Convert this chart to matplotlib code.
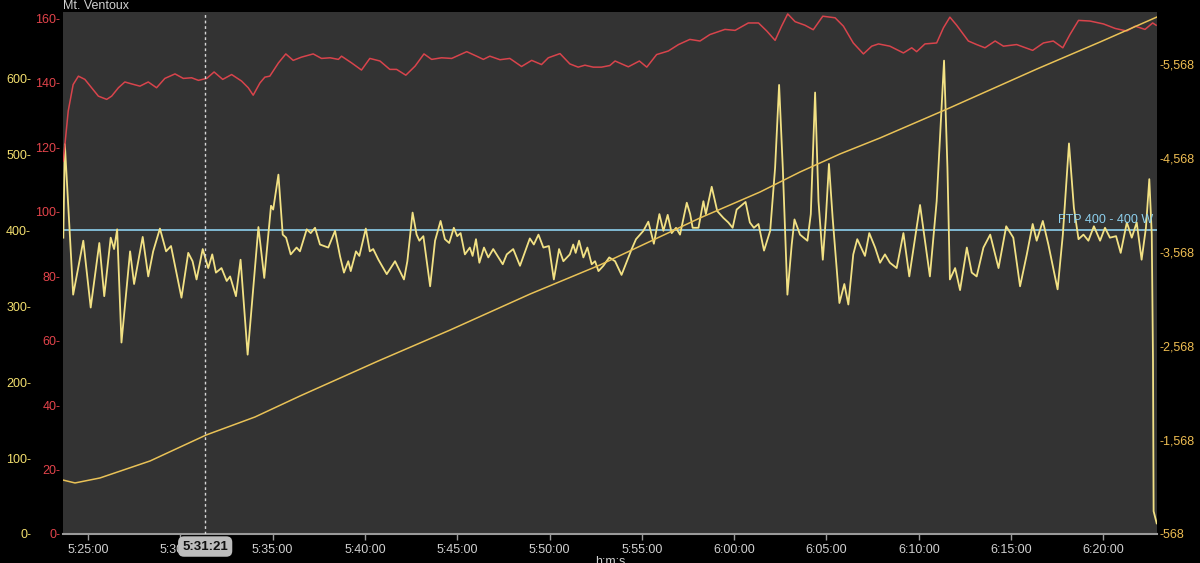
import matplotlib
matplotlib.use("Agg")
import matplotlib.pyplot as plt
import matplotlib.transforms as mtransforms
from matplotlib.ticker import FixedLocator, FuncFormatter

plt.rcParams['font.family'] = ['Liberation Sans', 'DejaVu Sans']

# ---------------- data ----------------
# time: seconds elapsed since 5:25:00
START_CLOCK = 5 * 3600 + 25 * 60
cursor_time = 381  # 5:31:21
ftp_watts = 400
ftp_label = "FTP 400 - 400 W"
title = "Mt. Ventoux"
xlabel = "h:m:s"

power_t = [-80, -75, -48, -15, 9, 37, 53, 74, 85, 95, 109, 137, 150, 178, 196, 212, 234, 254, 270,
           304, 326, 340, 353, 373, 391, 404, 416, 434, 451, 462, 481, 496, 519, 554, 573, 595, 602,
           619, 633, 644, 659, 678, 689, 711, 724, 738, 754, 781, 803, 819,
           832, 846, 854, 871, 882, 903, 916, 927, 944, 971, 998, 1027, 1038, 1055, 1068, 1077, 1090,
           1112, 1128, 1146, 1160, 1174, 1189, 1200, 1211, 1225, 1241, 1250, 1261, 1272, 1287, 1301,
           1317, 1348, 1361, 1382, 1404, 1436, 1449, 1464, 1480, 1498, 1514, 1531, 1545, 1566, 1577,
           1585, 1596, 1610, 1623, 1637, 1648, 1659, 1675, 1694,
           1713, 1734, 1767, 1781, 1805, 1821, 1839, 1857, 1870, 1884, 1897, 1911, 1924, 1946, 1957,
           1965, 1984, 2000, 2008, 2027, 2045, 2065, 2081, 2095, 2108, 2137, 2151, 2164, 2179, 2197,
           2217, 2233, 2246, 2258, 2273, 2287, 2296, 2314, 2338, 2349, 2363, 2374, 2388, 2398, 2408,
           2420, 2442, 2458, 2471, 2487, 2500, 2525, 2539, 2558,
           2574, 2590, 2606, 2628, 2650, 2669, 2704, 2736, 2758, 2782, 2793, 2801, 2818, 2834, 2856,
           2872, 2888, 2910, 2932, 2959, 2984, 3007, 3029, 3051, 3070, 3083, 3103, 3121, 3151, 3168,
           3188, 3204, 3219, 3235, 3251, 3269, 3289, 3305, 3321, 3341, 3356, 3376, 3392, 3408, 3424,
           3438, 3449, 3457, 3461, 3463, 3473]
power_w = [390, 513, 315, 386, 298, 383, 313, 390, 375, 401, 252, 372, 329, 391, 339, 372, 402, 372, 379,
           311, 370, 359, 335, 375, 350, 368, 344, 350, 333, 339, 313, 361, 236, 404, 337, 432, 427,
           473, 394, 390, 368, 377, 372, 401, 396, 403, 381, 377, 399, 366,
           344, 359, 346, 372, 366, 402, 372, 375, 361, 342, 359, 335, 359, 423, 394, 386, 392,
           326, 386, 412, 388, 383, 403, 392, 396, 368, 377, 366, 388, 357, 377, 364,
           375, 355, 368, 375, 353, 389, 381, 394, 377, 379, 335, 375, 359, 368, 381,
           370, 386, 364, 377, 355, 359, 346, 353, 364,
           359, 341, 375, 388, 399, 411, 382, 421, 399, 420, 396, 403, 394, 436, 421,
           403, 403, 438, 421, 457, 425, 416, 410, 403, 427, 437, 410, 403, 408, 373,
           399, 482, 591, 482, 315, 381, 414, 394, 386, 421, 581, 438, 361, 416, 487,
           416, 304, 329, 302, 368, 388, 366, 396, 377,
           357, 368, 357, 350, 396, 339, 433, 339, 438, 623, 482, 335, 350, 321, 377,
           344, 339, 377, 394, 350, 405, 390, 326, 368, 408, 386, 412, 381, 322, 394,
           514, 429, 388, 394, 386, 405, 386, 403, 390, 392, 370, 410, 390, 410, 361,
           403, 467, 394, 228, 30, 14]

hr_t = [-80, -64, -48, -31, -10, 12, 34, 61, 77, 99, 120, 142, 169, 196, 223, 250, 283, 310, 337, 359,
        386, 410, 438, 467, 499, 521, 537, 559, 575, 591, 619, 643, 667, 694, 732, 759, 787, 814,
        824, 857, 889, 916, 949, 981, 1003, 1033, 1063, 1092, 1117, 1149, 1182, 1231, 1263, 1285,
        1306, 1339, 1371, 1409, 1442, 1474, 1496, 1534, 1566, 1593, 1615, 1642, 1669, 1696,
        1713, 1756, 1792, 1816, 1848, 1886, 1919, 1956, 1989, 2021, 2070, 2103, 2146, 2179, 2206,
        2233, 2254, 2274, 2298, 2330, 2357, 2388, 2428, 2455, 2487, 2520, 2547,
        2569, 2606, 2650, 2677, 2693, 2720, 2758, 2780, 2801, 2823, 2861, 2888, 2915, 2948, 2975,
        3018, 3070, 3105, 3137, 3168, 3191, 3219, 3256, 3300, 3338, 3376, 3403, 3435, 3460, 3471]
hr_bpm = [115.7, 131.2, 139.4, 142.0, 141.0, 138.4, 135.8, 134.8, 135.8, 138.4, 140.2, 139.6, 138.9,
          140.2, 138.4, 141.3, 142.7, 141.3, 141.5, 140.7, 141.3, 143.3, 141.0, 142.5, 140.5, 138.4,
          136.1, 139.9, 141.7, 142.0, 146.1, 148.9, 146.9, 147.9, 148.9, 147.5, 147.7, 147.2,
          148.2, 146.1, 143.9, 147.5, 146.7, 144.1, 144.1, 142.3, 145.1, 148.9, 147.2, 147.7, 147.5,
          149.6, 148.2, 147.2, 148.2, 147.1, 147.5, 145.0, 146.9, 145.6, 147.7, 149.0, 145.8, 144.8,
          145.4, 144.8, 144.8, 145.3,
          146.7, 144.9, 146.7, 144.8, 148.7, 149.8, 151.8, 153.4, 152.9, 154.9, 156.5, 156.2, 158.5,
          158.5, 156.0, 153.1, 157.5, 161.3, 158.9, 157.8, 156.4, 160.6, 160.1, 157.5, 152.3, 148.9,
          151.3,
          152.0, 151.3, 149.2, 150.8, 149.6, 152.0, 152.3, 157.0, 160.3, 157.8, 152.9, 151.8, 150.8,
          152.9, 151.3, 151.8, 150.0, 152.3, 152.9, 150.8, 154.9, 159.3, 159.1, 158.2, 156.8, 156.0,
          157.5, 156.5, 158.5, 157.8]

alt_t = [-81, -42, 39, 202, 384, 543, 689, 943, 1177, 1437, 1664, 1989, 2184, 2314, 2444, 2574,
         2792, 3084, 3289, 3474]
alt_ft = [1142, 1111, 1164, 1345, 1621, 1813, 2036, 2408, 2738, 3121, 3430, 3930, 4206, 4419, 4611,
          4781, 5089, 5515, 5802, 6068]

time_ticks = [0, 300, 600, 900, 1200, 1500, 1800, 2100, 2400, 2700, 3000, 3300]
power_ticks = [0, 100, 200, 300, 400, 500, 600]
hr_ticks = [0, 20, 40, 60, 80, 100, 120, 140, 160]
alt_ticks = [568, 1568, 2568, 3568, 4568, 5568]

# ---------------- style ----------------
BG = "#000000"
PLOT_BG = "#333333"
C_POWER = "#f2e184"
C_POWER_LBL = "#f3df6e"
C_ALT = "#e9c257"
C_ALT_LBL = "#eebd52"
C_HR = "#d8444c"
C_HR_LBL = "#e3444b"
C_FTP = "#8dd0ee"
C_TXT = "#d0d0d0"
FS = 9


def clock(s, pos=None):
    s = int(round(s + START_CLOCK))
    return f"{s // 3600}:{(s % 3600) // 60:02d}:{s % 60:02d}"


fig = plt.figure(figsize=(12, 5.63), dpi=100, facecolor=BG)
ax = fig.add_axes([63 / 1200, 29 / 563, 1094 / 1200, 522 / 563])
ax.set_facecolor(PLOT_BG)
ax_hr = ax.twinx()
ax_alt = ax.twinx()

xlim = (-81, 3474)
for a in (ax, ax_hr, ax_alt):
    a.set_xlim(*xlim)
    for sp in a.spines.values():
        sp.set_visible(False)

ax.set_ylim(0, 687)
ax_hr.set_ylim(0, 161.9)
ax_alt.set_ylim(568, 6121)

# FTP line
ax.axhline(ftp_watts, color=C_FTP, lw=1.2, zorder=2)
ax.text(xlim[1] - 12, ftp_watts + 6, ftp_label, color=C_FTP, fontsize=FS, ha='right', va='bottom',
        zorder=5)

# series
ax.plot(power_t, power_w, color=C_POWER, lw=1.3, zorder=3, solid_joinstyle='round')
ax_hr.plot(hr_t, hr_bpm, color=C_HR, lw=1.1, solid_joinstyle='round')
ax_alt.plot(alt_t, alt_ft, color=C_ALT, lw=1.1)

# cursor
ax_alt.axvline(cursor_time, color="#d8d8d8", lw=1.0, ls=(0, (2, 2)))
trans = mtransforms.blended_transform_factory(ax.transData, ax.transAxes)
ax_alt.text(cursor_time, -0.024, clock(cursor_time), transform=trans, ha='center', va='center',
            fontsize=9.5, color="#111111", clip_on=False, zorder=10, fontweight='bold',
            bbox=dict(boxstyle='round,pad=0.32,rounding_size=0.45', fc="#bdbdbd", ec='none'))

# x axis
ax.spines['bottom'].set_visible(True)
ax.spines['bottom'].set_color("#9a9a9a")
ax.spines['bottom'].set_linewidth(1.5)
ax.xaxis.set_major_locator(FixedLocator(time_ticks))
ax.xaxis.set_major_formatter(FuncFormatter(clock))
ax.tick_params(axis='x', colors="#9a9a9a", length=4, width=1, direction='out', pad=3,
               labelsize=FS, labelcolor=C_TXT)
for a in (ax_hr, ax_alt):
    a.tick_params(axis='x', bottom=False, labelbottom=False)

# power axis (far left)
ax.yaxis.set_major_locator(FixedLocator(power_ticks))
ax.yaxis.set_major_formatter(FuncFormatter(lambda v, p: f"{int(v)}-"))
ax.tick_params(axis='y', length=0, pad=23, labelsize=FS, labelcolor=C_POWER_LBL)

# HR axis (inner left)
ax_hr.yaxis.tick_left()
ax_hr.yaxis.set_major_locator(FixedLocator(hr_ticks))
ax_hr.yaxis.set_major_formatter(FuncFormatter(lambda v, p: f"{int(v)}-"))
ax_hr.tick_params(axis='y', length=0, pad=2, labelsize=FS, labelcolor=C_HR_LBL)

# altitude axis (right)
ax_alt.yaxis.tick_right()
ax_alt.yaxis.set_major_locator(FixedLocator(alt_ticks))
ax_alt.yaxis.set_major_formatter(FuncFormatter(lambda v, p: f"-{int(v):,}"))
ax_alt.tick_params(axis='y', length=0, pad=1.5, labelsize=FS, labelcolor=C_ALT_LBL)

# titles
fig.text(63 / 1200, 1 - 6 / 563, title, color=C_TXT, fontsize=FS, ha='left', va='center')
fig.text(610 / 1200, 1 - 556 / 563, xlabel, color=C_TXT, fontsize=FS, ha='center', va='top')

fig.savefig("out.png", dpi=100, facecolor=BG)
